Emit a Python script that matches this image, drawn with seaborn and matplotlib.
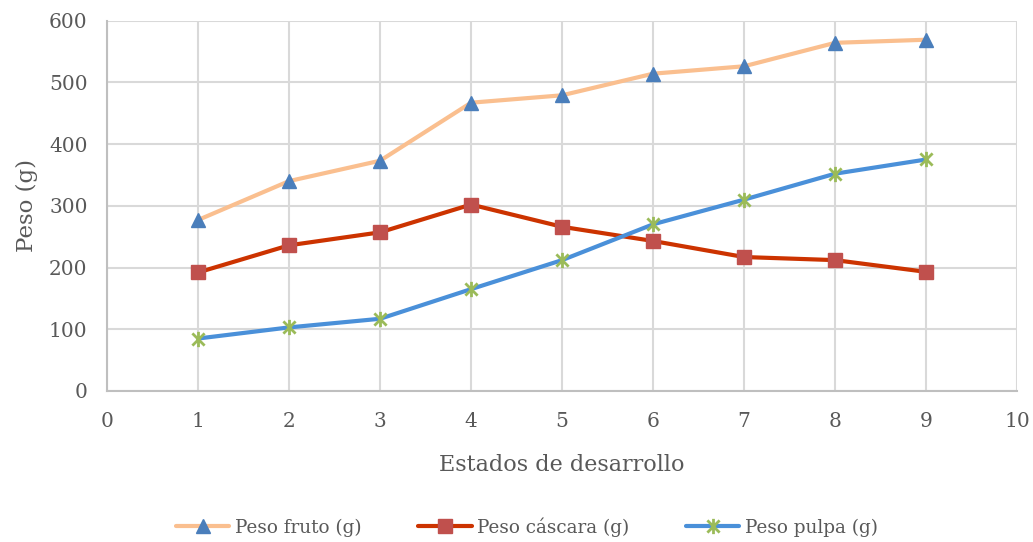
import matplotlib
matplotlib.use("Agg")
import matplotlib.pyplot as plt
from matplotlib.path import Path
import seaborn as sns
import pandas as pd

# Data
estados = [1, 2, 3, 4, 5, 6, 7, 8, 9]
peso_fruto = [277, 340, 373, 467, 479, 514, 526, 564, 569]
peso_cascara = [192, 236, 257, 302, 266, 243, 217, 212, 193]
peso_pulpa = [85, 103, 117, 165, 212, 270, 310, 352, 375]
series_names = ["Peso fruto (g)", "Peso cáscara (g)", "Peso pulpa (g)"]
x_ticks = list(range(0, 11))
y_ticks = [0, 100, 200, 300, 400, 500, 600]

sns.set_theme(style="white")
plt.rcParams["font.family"] = ["DejaVu Serif"]
text_color = "#595959"

df = pd.DataFrame({
    "estado": estados * 3,
    "peso": peso_fruto + peso_cascara + peso_pulpa,
    "serie": [series_names[0]] * 9 + [series_names[1]] * 9 + [series_names[2]] * 9,
})

# asterisk marker: vertical bar plus an X
asterisk = Path(
    [(0, -1), (0, 1), (-0.8, -0.8), (0.8, 0.8), (-0.8, 0.8), (0.8, -0.8)],
    [Path.MOVETO, Path.LINETO, Path.MOVETO, Path.LINETO, Path.MOVETO, Path.LINETO],
)

styles = {
    series_names[0]: dict(color="#FABF8F", marker="^", mfc="#4A7EBB", mec="#4A7EBB", ms=9.5, mew=1),
    series_names[1]: dict(color="#CC3300", marker="s", mfc="#C0504D", mec="#C0504D", ms=9.5, mew=1),
    series_names[2]: dict(color="#4A90D9", marker=asterisk, mfc="#9BBB59", mec="#9BBB59", ms=11, mew=2),
}

fig = plt.figure(figsize=(10.33, 5.42), dpi=100)
ax = fig.add_axes([0.1036, 0.2786, 0.881, 0.6834])

for name in series_names:
    st = styles[name]
    sns.lineplot(
        data=df[df["serie"] == name], x="estado", y="peso", ax=ax,
        color=st["color"], linewidth=3, marker=st["marker"],
        markerfacecolor=st["mfc"], markeredgecolor=st["mec"],
        markersize=st["ms"], markeredgewidth=st["mew"], label=name, zorder=3,
    )

ax.set_xlim(0, 10)
ax.set_ylim(0, 600)
ax.set_xticks(x_ticks)
ax.set_yticks(y_ticks)
ax.grid(True, color="#D9D9D9", linewidth=1.5)
ax.set_axisbelow(True)
for side in ["top", "right"]:
    ax.spines[side].set_visible(False)
for side in ["left", "bottom"]:
    ax.spines[side].set_color("#BFBFBF")
    ax.spines[side].set_linewidth(1.5)
ax.tick_params(axis="both", length=0, labelsize=14.5, colors=text_color)
ax.tick_params(axis="x", pad=15)
ax.tick_params(axis="y", pad=14)
ax.set_xlabel("Estados de desarrollo", fontsize=16, color=text_color, labelpad=17)
ax.set_ylabel("Peso (g)", fontsize=16.5, color=text_color, labelpad=8)

leg = ax.legend(
    loc="center", bbox_to_anchor=(0.4615, -0.367), ncol=3, frameon=False,
    fontsize=13.2, handlelength=2.9, columnspacing=3.1, handletextpad=0.3,
)
for t in leg.get_texts():
    t.set_color(text_color)

fig.savefig("out.png", dpi=100)
